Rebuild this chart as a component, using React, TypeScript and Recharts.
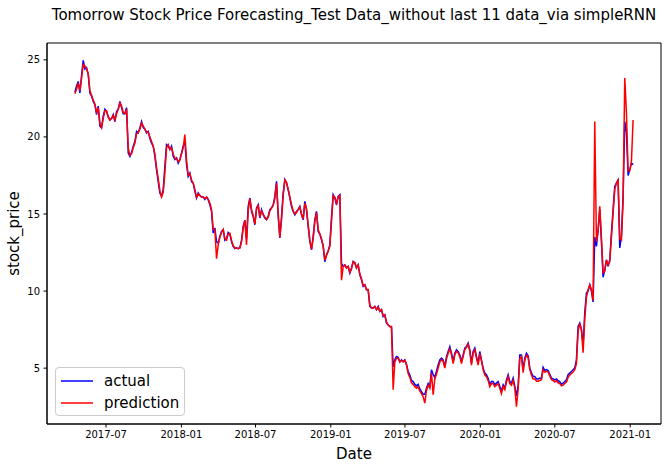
import React from 'react';
import { LineChart, Line, XAxis, YAxis, ReferenceArea } from 'recharts';

// Sampled closing prices (every ~3 trading days)
const START_DATE = '2017-04-16';
const STEP_DAYS = 4.069;

const actual = [
  22.9, 23.3, 23.6, 22.85, 24.0, 24.97, 24.4, 24.5, 24.05, 22.85,
  22.65, 22.3, 22.1, 21.45, 22.0, 20.7, 20.6, 21.35, 21.8, 21.65,
  21.3, 21.1, 21.2, 21.45, 21.0, 21.65, 21.8, 22.3, 21.9, 21.5,
  21.5, 21.9, 18.96, 18.74, 19.0, 19.4, 19.7, 20.36, 20.26, 20.6,
  21.0, 20.6, 20.5, 20.26, 20.36, 19.9, 19.6, 19.4, 18.74, 17.88,
  17.1, 16.36, 16.14, 16.58, 18.1, 19.5, 19.4, 19.18, 19.4, 18.74,
  18.53, 18.64, 18.3, 18.53, 18.96, 19.4, 19.7, 18.2, 17.44, 17.66,
  17.1, 17.0, 16.47, 16.04, 16.36, 16.2, 16.1, 16.1, 15.95, 16.1,
  15.93, 15.6, 15.17, 13.77, 14.1, 13.2, 13.12, 13.55, 13.87, 13.98,
  13.3, 13.4, 13.8, 13.7, 13.2, 12.9, 12.75, 12.8, 12.75, 12.8,
  13.3, 14.2, 14.6, 13.4, 15.49, 16.04, 15.17, 14.84, 14.3, 15.39,
  15.6, 14.74, 15.28, 14.95, 14.74, 14.63, 14.84, 15.28, 15.39, 15.6,
  16.14, 17.12, 14.84, 13.44, 14.84, 16.36, 17.23, 17.01, 16.58, 16.04,
  15.49, 15.17, 14.95, 15.17, 15.28, 15.49, 14.95, 14.63, 15.82, 15.28,
  14.2, 13.22, 12.68, 13.55, 14.63, 15.17, 13.87, 13.7, 13.33, 12.9,
  11.9, 12.36, 12.6, 13.0, 14.8, 16.25, 16.04, 15.6, 16.14, 16.25,
  11.8, 11.6, 11.7, 11.5, 11.6, 11.17, 11.5, 11.92, 11.82, 11.5,
  11.7, 11.06, 10.73, 10.3, 10.4, 10.08, 10.08, 9.0, 8.9, 8.9,
  9.0, 8.79, 9.0, 8.68, 8.79, 8.35, 8.46, 7.92, 7.81, 7.7,
  7.65, 5.1, 5.55, 5.75, 5.7, 5.4, 5.54, 5.43, 5.54, 5.25,
  4.78, 4.55, 4.2, 4.13, 3.95, 3.85, 3.95, 3.65, 3.48, 3.3,
  3.3, 3.7, 4.0, 3.81, 4.89, 4.57, 4.4, 4.8, 5.2, 5.54,
  5.65, 5.54, 5.1, 5.75, 6.08, 6.4, 5.97, 5.43, 5.97, 6.19,
  6.08, 5.86, 5.43, 5.86, 6.3, 6.4, 6.62, 6.19, 5.32, 6.08,
  6.3, 5.75, 5.32, 6.08, 5.54, 5.0, 4.68, 4.57, 4.35, 3.95,
  4.13, 4.13, 3.92, 4.03, 4.13, 3.81, 3.5, 3.92, 3.7, 4.24,
  4.57, 4.13, 4.03, 4.35, 3.81, 3.2, 3.81, 5.85, 5.85, 4.9,
  5.65, 5.97, 5.8, 5.0, 4.7, 4.45, 4.45, 4.3, 4.3, 4.35,
  4.35, 5.05, 4.85, 4.9, 4.85, 4.6, 4.35, 4.3, 4.24, 4.3,
  4.18, 4.13, 3.95, 4.03, 4.13, 4.24, 4.57, 4.68, 4.78, 4.89,
  5.0, 5.54, 7.7, 7.92, 7.49, 6.5, 8.6, 9.87, 10.0, 10.4,
  10.0, 9.3, 13.5, 12.9, 13.98, 15.3, 13.2, 10.9, 11.38, 12.03,
  11.6, 12.03, 13.77, 15.28, 16.79, 17.01, 17.2, 12.8, 13.6, 16.14,
  21.0, 20.3, 17.5, 17.88, 18.3, 18.2,
];

const prediction = [
  22.8, 23.1, 23.5, 23.0, 23.8, 24.7, 24.6, 24.4, 24.1, 23.0,
  22.7, 22.4, 22.1, 21.6, 21.9, 20.9, 20.6, 21.2, 21.7, 21.7,
  21.3, 21.1, 21.2, 21.4, 21.1, 21.5, 21.8, 22.2, 22.0, 21.6,
  21.5, 21.8, 19.3, 18.8, 18.9, 19.3, 19.6, 20.2, 20.3, 20.5,
  20.9, 20.7, 20.5, 20.3, 20.3, 20.0, 19.7, 19.4, 18.9, 18.0,
  17.3, 16.5, 16.1, 16.4, 17.7, 19.3, 19.5, 19.2, 19.3, 18.9,
  18.6, 18.6, 18.4, 18.5, 18.9, 19.3, 20.15, 18.5, 17.5, 17.6,
  17.2, 17.0, 16.6, 16.1, 16.3, 16.2, 16.1, 16.1, 16.0, 16.1,
  15.95, 15.7, 15.3, 14.0, 14.0, 12.1, 13.0, 13.5, 13.8, 14.0,
  13.4, 13.3, 13.7, 13.75, 13.3, 12.95, 12.8, 12.8, 12.75, 12.8,
  13.2, 14.1, 14.6, 13.0, 15.2, 16.0, 15.3, 14.9, 14.35, 15.3,
  15.6, 14.8, 15.2, 15.0, 14.8, 14.65, 14.8, 15.2, 15.4, 15.55,
  16.0, 17.0, 15.1, 13.5, 14.6, 16.2, 17.2, 17.05, 16.6, 16.1,
  15.6, 15.2, 15.0, 15.1, 15.3, 15.45, 15.0, 14.7, 15.7, 15.3,
  14.3, 13.3, 12.7, 13.4, 14.5, 15.1, 14.0, 13.7, 13.4, 12.95,
  12.0, 12.3, 12.6, 12.9, 14.5, 16.2, 16.1, 15.7, 16.1, 16.2,
  10.7, 11.6, 11.7, 11.5, 11.6, 11.2, 11.45, 11.9, 11.85, 11.5,
  11.7, 11.1, 10.8, 10.35, 10.4, 10.1, 10.1, 9.1, 8.9, 8.9,
  9.0, 8.8, 8.95, 8.7, 8.8, 8.4, 8.45, 8.0, 7.8, 7.7,
  7.7, 3.6, 5.4, 5.65, 5.65, 5.4, 5.5, 5.4, 5.5, 5.2,
  4.65, 4.4, 4.05, 3.95, 3.8, 3.7, 3.8, 3.5, 3.35, 3.15,
  2.73, 3.55, 3.9, 3.7, 4.7, 3.27, 4.3, 4.6, 5.0, 5.4,
  5.55, 5.45, 5.0, 5.6, 5.95, 6.25, 5.9, 5.3, 5.85, 6.1,
  6.0, 5.75, 5.3, 5.75, 6.2, 6.35, 6.55, 6.1, 5.2, 5.95,
  6.2, 5.65, 5.2, 5.95, 5.45, 4.9, 4.55, 4.45, 4.2, 3.8,
  4.0, 4.0, 3.8, 3.9, 4.0, 3.7, 3.35, 3.8, 3.6, 4.1,
  4.45, 4.0, 3.9, 4.2, 3.7, 2.5, 3.6, 5.6, 5.75, 4.7,
  5.5, 5.85, 5.7, 4.9, 4.55, 4.3, 4.3, 4.15, 4.15, 4.2,
  4.25, 4.9, 4.75, 4.8, 4.75, 4.5, 4.25, 4.2, 4.1, 4.2,
  4.05, 4.0, 3.85, 3.9, 4.0, 4.1, 4.4, 4.55, 4.65, 4.75,
  4.9, 5.3, 7.4, 7.9, 7.5, 6.0, 8.2, 9.6, 10.1, 10.4,
  10.1, 9.4, 21.0, 13.2, 13.9, 15.5, 13.5, 11.2, 11.3, 12.0,
  11.7, 11.9, 13.5, 15.1, 16.6, 17.0, 17.2, 13.4, 13.3, 15.9,
  23.83, 21.6, 17.8, 17.8, 18.4, 21.1,
];

const xTickDates = ['2017-07-01', '2018-01-01', '2018-07-01', '2019-01-01', '2019-07-01', '2020-01-01', '2020-07-01', '2021-01-01'];
const yTicks = [5, 10, 15, 20, 25];

const TITLE = 'Tomorrow Stock Price Forecasting_Test Data_without last 11 data_via simpleRNN';
const X_LABEL = 'Date';
const Y_LABEL = 'stock_price';
const SERIES_NAMES = ['actual', 'prediction'];
const SERIES_COLORS = ['#0000ff', '#ff0000'];

const DAY = 86400000;
const t0 = Date.parse(START_DATE + 'T00:00:00Z');
const data = actual.map((a, i) => ({
  t: t0 + i * STEP_DAYS * DAY,
  actual: a,
  prediction: prediction[i],
}));

const tMin = data[0].t;
const tMax = data[data.length - 1].t;
const xPad = (tMax - tMin) * 0.05;
const allVals = [...actual, ...prediction];
const vMin = Math.min(...allVals);
const vMax = Math.max(...allVals);
const yPad = (vMax - vMin) * 0.05;
const xDomain = [tMin - xPad, tMax + xPad];
const yDomain = [vMin - yPad, vMax + yPad];

const xTicks = xTickDates.map((d) => Date.parse(d + 'T00:00:00Z'));
const fmtDate = (t: number) => {
  const d = new Date(t);
  return `${d.getUTCFullYear()}-${String(d.getUTCMonth() + 1).padStart(2, '0')}`;
};

const FONT = '"DejaVu Sans", sans-serif';

const W = 668;
const H = 467;
const PLOT = { left: 47, top: 43, right: 661, bottom: 424 };

export default function App() {
  return (
    <div style={{ position: 'absolute', left: 0, top: 0, width: W, height: H, background: '#fff', fontFamily: FONT }}>
      <div
        style={{
          position: 'absolute',
          left: PLOT.left,
          width: PLOT.right - PLOT.left,
          top: 5,
          textAlign: 'center',
          fontSize: 15,
          lineHeight: '20px',
          color: '#000',
          whiteSpace: 'nowrap',
        }}
      >
        {TITLE}
      </div>
      <LineChart
        width={W}
        height={H}
        data={data}
        margin={{ top: PLOT.top, right: W - PLOT.right, bottom: 0, left: 0 }}
        style={{ fontFamily: FONT }}
      >
        <XAxis
          dataKey="t"
          type="number"
          domain={xDomain}
          allowDataOverflow
          ticks={xTicks}
          tickFormatter={fmtDate}
          height={H - PLOT.bottom}
          tickSize={3.5}
          tickMargin={3.5}
          axisLine={{ stroke: '#000', strokeWidth: 1 }}
          tickLine={{ stroke: '#000', strokeWidth: 1 }}
          tick={{ fill: '#000', fontSize: 10, fontFamily: FONT }}
          label={{ value: X_LABEL, position: 'insideBottom', offset: 8, fontSize: 15, fill: '#000', fontFamily: FONT }}
        />
        <YAxis
          type="number"
          domain={yDomain}
          allowDataOverflow
          ticks={yTicks}
          width={PLOT.left}
          tickSize={3.5}
          tickMargin={3.5}
          axisLine={{ stroke: '#000', strokeWidth: 1 }}
          tickLine={{ stroke: '#000', strokeWidth: 1 }}
          tick={{ fill: '#000', fontSize: 10, fontFamily: FONT }}
          label={{
            value: Y_LABEL,
            angle: -90,
            position: 'insideLeft',
            offset: 14,
            fontSize: 15,
            fill: '#000',
            fontFamily: FONT,
            style: { textAnchor: 'middle' },
          }}
        />
        <ReferenceArea
          x1={xDomain[0]}
          x2={xDomain[1]}
          y1={yDomain[0]}
          y2={yDomain[1]}
          fill="none"
          fillOpacity={0}
          stroke="#000"
          strokeWidth={1}
          ifOverflow="visible"
        />
        <Line
          type="linear"
          dataKey="actual"
          stroke={SERIES_COLORS[0]}
          strokeWidth={1.5}
          dot={false}
          isAnimationActive={false}
        />
        <Line
          type="linear"
          dataKey="prediction"
          stroke={SERIES_COLORS[1]}
          strokeWidth={1.5}
          dot={false}
          isAnimationActive={false}
        />
      </LineChart>
      <div
        style={{
          position: 'absolute',
          left: 55,
          top: 367,
          width: 130,
          height: 49,
          boxSizing: 'border-box',
          border: '1px solid #cccccc',
          borderRadius: 4,
          background: 'rgba(255,255,255,0.8)',
          fontSize: 15,
          color: '#000',
        }}
      >
        {SERIES_NAMES.map((name, i) => (
          <div key={name} style={{ position: 'absolute', left: 0, top: 2 + i * 22, height: 22, display: 'flex', alignItems: 'center' }}>
            <svg width={48} height={22} style={{ display: 'block' }}>
              <line x1={5} x2={37} y1={11} y2={11} stroke={SERIES_COLORS[i]} strokeWidth={1.5} />
            </svg>
            <span style={{ lineHeight: '22px', whiteSpace: 'nowrap' }}>{name}</span>
          </div>
        ))}
      </div>
    </div>
  );
}
